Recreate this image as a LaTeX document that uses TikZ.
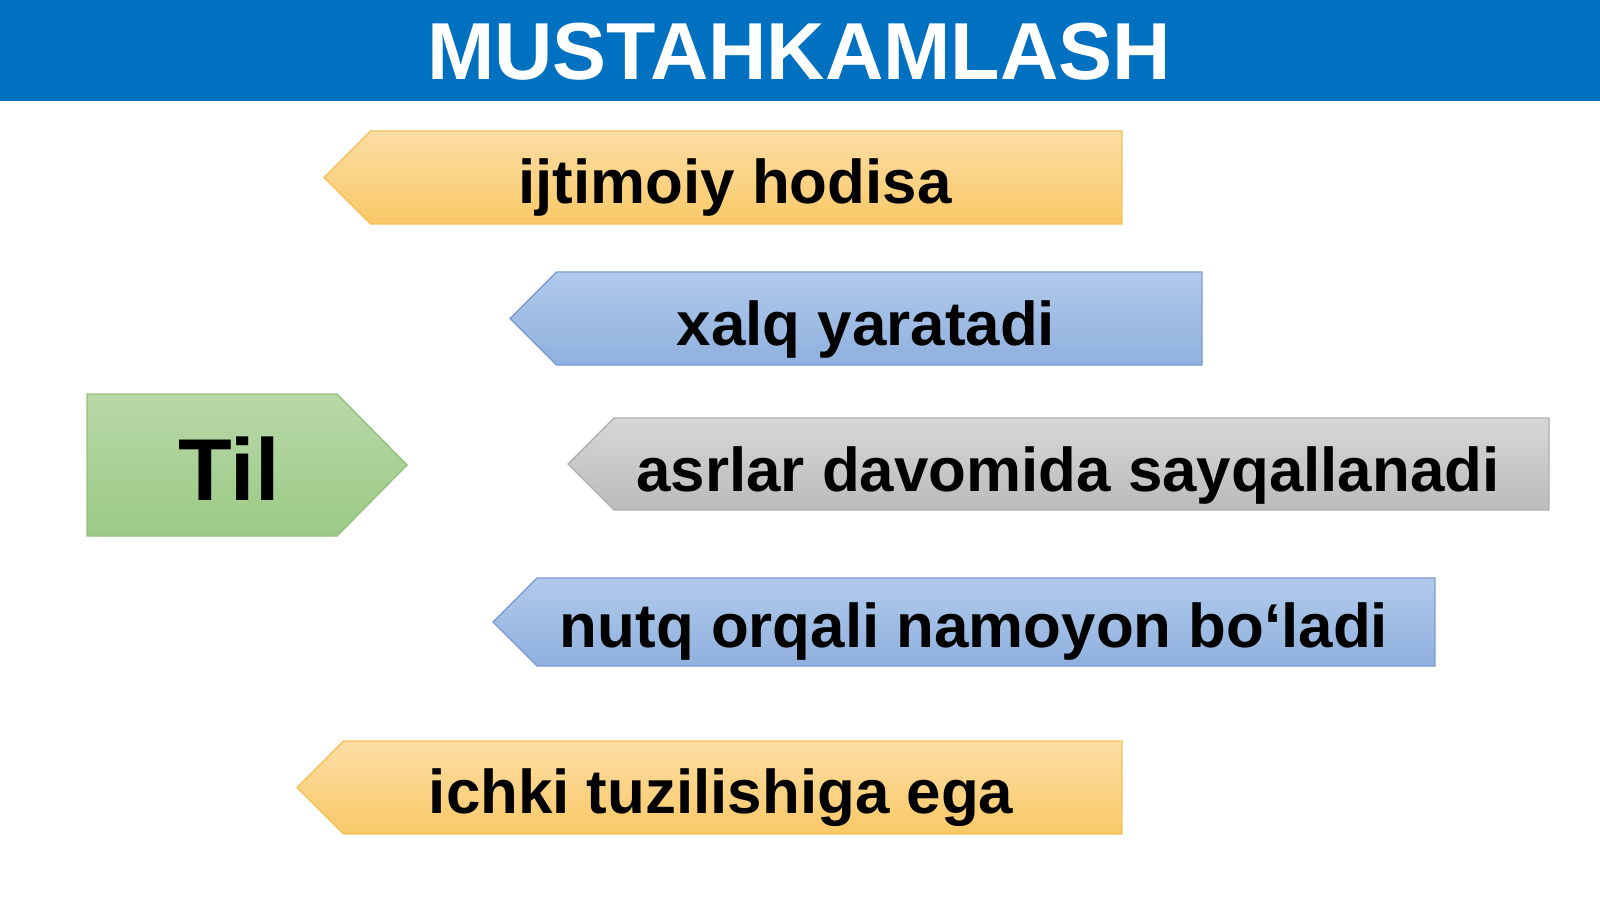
\documentclass[tikz,border=0pt]{standalone}
\usepackage{fontspec}
\setmainfont{Liberation Sans}
\usetikzlibrary{calc}
\definecolor{titleblue}{HTML}{0070C0}
\definecolor{ytop}{HTML}{FCDDA4}
\definecolor{ybot}{HTML}{F9C967}
\definecolor{yline}{HTML}{F5C25A}
\definecolor{btop}{HTML}{B1CAEB}
\definecolor{bbot}{HTML}{8FB0DE}
\definecolor{bline}{HTML}{7C9CD2}
\definecolor{gtop}{HTML}{D7D7D7}
\definecolor{gbot}{HTML}{BBBBBB}
\definecolor{gline}{HTML}{B0B0B0}
\definecolor{ttop}{HTML}{B8D8A8}
\definecolor{tbot}{HTML}{9BCA85}
\definecolor{tline}{HTML}{93C27E}
\tikzset{
  yellowtag/.style={top color=ytop, bottom color=ybot, draw=yline, line width=0.4pt},
  bluetag/.style={top color=btop, bottom color=bbot, draw=bline, line width=0.4pt},
  greytag/.style={top color=gtop, bottom color=gbot, draw=gline, line width=0.4pt},
  greentag/.style={top color=ttop, bottom color=tbot, draw=tline, line width=0.4pt},
  label/.style={font=\fontsize{17.6pt}{20pt}\selectfont\bfseries, text=black, anchor=base, inner sep=0pt}
}
% tag pointing left: tip x, right x, top y, bottom y
\def\tagleft[#1](#2:#3:#4:#5){\draw[#1] (#2,{(#4+#5)/2}) -- ({#2+(#4-#5)/2},#4) -- (#3,#4) -- (#3,#5) -- ({#2+(#4-#5)/2},#5) -- cycle;}
\begin{document}
\begin{tikzpicture}
			%%%%% START %%%%%
			\useasboundingbox (0, 0) rectangle (16, 9);
			\fill[white] (0, 0) rectangle (16, 9);
			
			\fill[titleblue] (0, 7.99) rectangle (16, 9);
			\node[font=\fontsize{23pt}{26pt}\selectfont\bfseries, text=white, anchor=base, inner sep=0pt] (title) at (7.99, 8.20) {MUSTAHKAMLASH};
			
			\draw[greentag] (0.87, 5.06) -- (3.37, 5.06) -- (4.07, 4.35) -- (3.37, 3.64) -- (0.87, 3.64) -- cycle;
			\node[label, font=\fontsize{25pt}{28pt}\selectfont\bfseries] (til) at (2.29, 4.00) {Til};
			
			\tagleft[yellowtag](3.24:11.22:7.69:6.76);
			\node[label] (hodisa) at (7.35, 6.96) {ijtimoiy hodisa};
			
			\tagleft[bluetag](5.10:12.02:6.28:5.35);
			\node[label] (xalq) at (8.66, 5.55) {xalq yaratadi};
			
			\tagleft[greytag](5.68:15.49:4.82:3.90);
			\node[label] (asrlar) at (10.68, 4.09) {asrlar davomida sayqallanadi};
			
			\tagleft[bluetag](4.93:14.35:3.22:2.34);
			\node[label] (nutq) at (9.74, 2.53) {nutq orqali namoyon bo‘ladi};
			
			\tagleft[yellowtag](2.97:11.22:1.59:0.66);
			\node[label] (tuzilish) at (7.21, 0.87) {ichki tuzilishiga ega};
			
			%%%%% END %%%%%
		\end{tikzpicture}
\end{document}
